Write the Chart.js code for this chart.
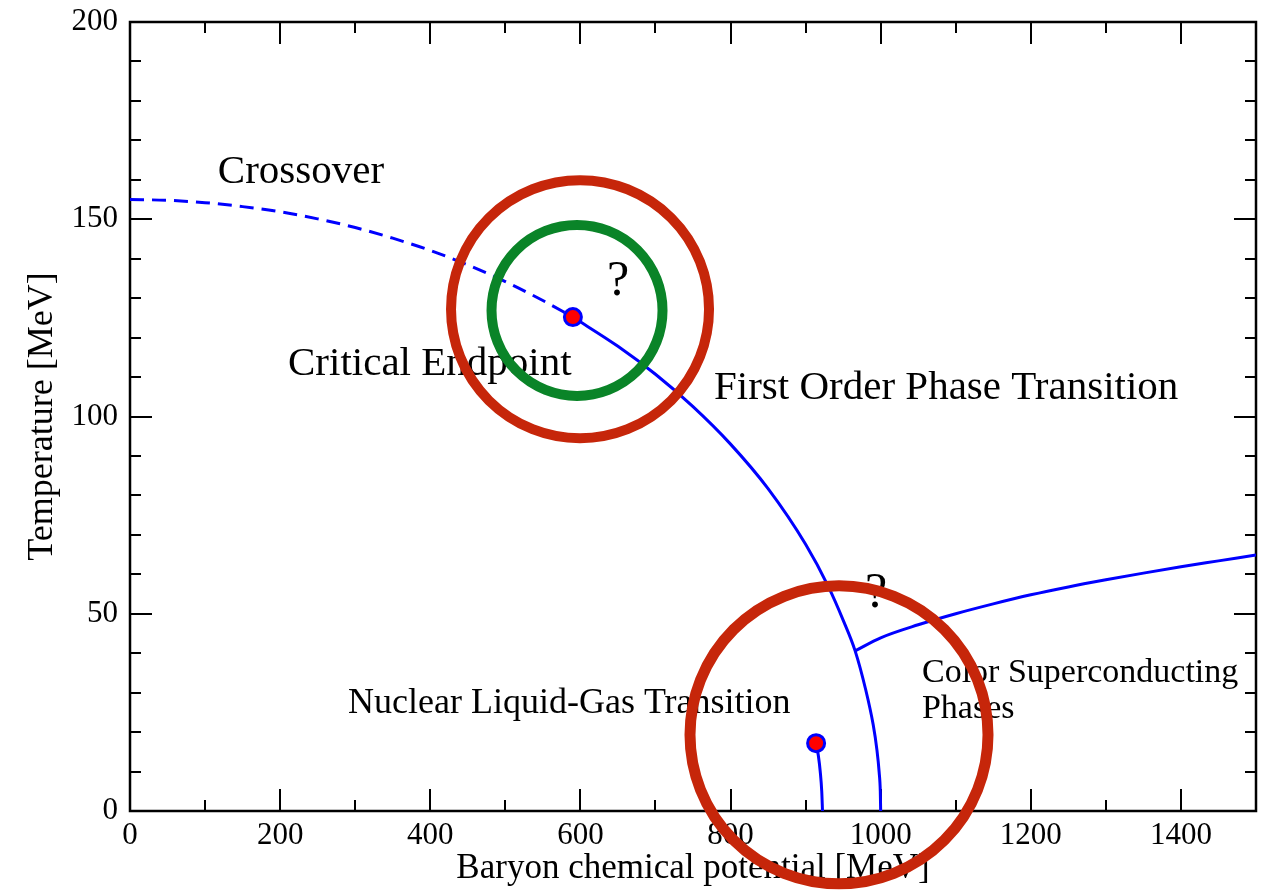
<!DOCTYPE html>
<html>
<head>
<meta charset="utf-8">
<script src="https://cdn.jsdelivr.net/npm/chart.js@4.4.1/dist/chart.umd.min.js"></script>
<style>
body { margin: 0; background: #fff; }
</style>
</head>
<body>
<canvas id="mycanvas" width="1268" height="890"></canvas>
<script>
// crossover (dashed) part of the boundary
var crossMu = [0, 50, 100, 150, 200, 250, 300, 350, 400, 450, 500, 550, 590];
var crossT = [155, 154.8, 154.2, 153.2, 151.9, 150.1, 147.9, 145.2, 142.1, 138.4, 134.2, 129.4, 125.2];
// first order line
var firstMu = [590, 650, 700, 750, 800, 850, 900, 930, 950, 966, 980, 990, 995, 998, 999.5, 1000];
var firstT = [125.2, 117.8, 110.7, 102.5, 93, 81.7, 67.6, 57, 48.4, 40.6, 30.8, 21.9, 15.5, 9.8, 5, 0];
// color superconducting boundary
var cscMu = [966, 1000, 1050, 1100, 1150, 1200, 1250, 1300, 1350, 1400, 1450, 1500];
var cscT = [40.6, 43.9, 47.2, 50, 52.5, 54.8, 56.8, 58.6, 60.3, 61.9, 63.4, 64.9];
// nuclear liquid-gas line
var lgMu = [914, 917, 919.5, 921.5, 922.5];
var lgT = [17.2, 14, 10, 5, 0];
// endpoints
var endMu = [590, 914];
var endT = [125.2, 17.2];
// rings (red, green, red)
var ringMu = [599.5, 595.5, 944.5];
var ringT = [127.2, 126.9, 19.3];

var labelText = ['Crossover', 'Critical Endpoint', 'First Order Phase Transition', '?', '?',
	'Nuclear Liquid-Gas Transition', 'Color Superconducting', 'Phases'];
var labelMu = [117, 210.5, 778, 635.4, 979, 290.4, 1055, 1055];
var labelT = [159.2, 110.5, 104.4, 130.8, 51.7, 24.8, 32.7, 23.6];

var xTicks = [0, 200, 400, 600, 800, 1000, 1200, 1400];
var xMinor = [100, 300, 500, 700, 900, 1100, 1300, 1500];
var yTicks = [0, 50, 100, 150, 200];
var yMinor = [10, 20, 30, 40, 60, 70, 80, 90, 110, 120, 130, 140, 160, 170, 180, 190];

function pts(xs, ys) {
	var out = [];
	for (var i in xs) {
		out.push({x: xs[i], y: ys[i]});
	}
	return out;
}

var labelSize = [41, 41, 41, 50, 50, 36, 34, 34];

var framePlugin = {
	id: 'frame',
	beforeDatasetsDraw: function(chart) {
		var ctx = chart.ctx;
		var a = chart.chartArea;
		var sx = chart.scales.x;
		var sy = chart.scales.y;
		ctx.save();
		ctx.strokeStyle = '#000';
		ctx.lineWidth = 2;
		ctx.beginPath();
		function xt(v, len) {
			var p = Math.round(sx.getPixelForValue(v));
			ctx.moveTo(p, a.bottom); ctx.lineTo(p, a.bottom - len);
			ctx.moveTo(p, a.top); ctx.lineTo(p, a.top + len);
		}
		function yt(v, len) {
			var p = Math.round(sy.getPixelForValue(v));
			ctx.moveTo(a.left, p); ctx.lineTo(a.left + len, p);
			ctx.moveTo(a.right, p); ctx.lineTo(a.right - len, p);
		}
		xTicks.forEach(function(v) { xt(v, 22); });
		xMinor.forEach(function(v) { xt(v, 11); });
		yTicks.forEach(function(v) { yt(v, 22); });
		yMinor.forEach(function(v) { yt(v, 11); });
		ctx.stroke();
		ctx.lineWidth = 2.5;
		ctx.strokeRect(a.left, a.top, a.right - a.left, a.bottom - a.top);

		ctx.fillStyle = '#000';
		ctx.textAlign = 'left';
		ctx.textBaseline = 'alphabetic';
		for (var i = 0; i < labelText.length; i++) {
			ctx.font = labelSize[i] + 'px "Liberation Serif"';
			ctx.fillText(labelText[i], sx.getPixelForValue(labelMu[i]), sy.getPixelForValue(labelT[i]));
		}
		ctx.restore();
	}
};

var ringColor = ['rgb(198,38,10)', 'rgb(10,132,40)', 'rgb(198,38,10)'];
var ringRadius = [129, 85.5, 149];
var ringWidth = [10, 10, 11];

var datasets = [];
for (var r = 0; r < ringMu.length; r++) {
	datasets.push({
		data: [{x: ringMu[r], y: ringT[r]}],
		showLine: false,
		pointStyle: 'circle',
		pointRadius: ringRadius[r],
		pointBorderWidth: ringWidth[r],
		pointBorderColor: ringColor[r],
		pointBackgroundColor: 'rgba(0,0,0,0)',
		clip: false
	});
}
datasets.push({
	data: pts(endMu, endT),
	showLine: false,
	pointRadius: 8.5,
	pointBorderWidth: 3,
	pointBorderColor: '#0000ff',
	pointBackgroundColor: '#ff0000'
});
var lineStyle = function(xs, ys, dash) {
	return {
		data: pts(xs, ys),
		showLine: true,
		fill: false,
		borderColor: '#0000ff',
		borderWidth: 3,
		borderDash: dash,
		pointRadius: 0,
		cubicInterpolationMode: 'monotone'
	};
};
datasets.push(lineStyle(crossMu, crossT, [14, 8]));
datasets.push(lineStyle(firstMu, firstT, []));
datasets.push(lineStyle(cscMu, cscT, []));
datasets.push(lineStyle(lgMu, lgT, []));

var font = 'Liberation Serif';
var ctx = document.getElementById('mycanvas');

function noPad(s) {
	s.paddingTop = 0;
	s.paddingBottom = 0;
	s.paddingLeft = 0;
	s.paddingRight = 0;
}

var PhaseChart = new Chart(ctx, {
	type: 'scatter',
	data: { datasets: datasets },
	plugins: [framePlugin],
	options: {
		responsive: false,
		animation: false,
		events: [],
		layout: { autoPadding: false, padding: { top: 22, right: 12, left: 0, bottom: 0 } },
		plugins: { legend: { display: false }, tooltip: { enabled: false } },
		scales: {
			x: {
				type: 'linear', min: 0, max: 1500,
				afterBuildTicks: function(s) { s.ticks = xTicks.map(function(v) { return {value: v}; }); },
				afterFit: function(s) { s.height = 79; noPad(s); },
				grid: { display: false, drawTicks: false },
				border: { display: false },
				ticks: { font: { family: font, size: 31 }, color: '#000', padding: 6, maxRotation: 0, autoSkip: false,
					callback: function(v) { return String(v); } },
				title: { display: true, text: 'Baryon chemical potential [MeV]', color: '#000',
					font: { family: font, size: 35 }, padding: { top: 0, bottom: 0 } }
			},
			y: {
				type: 'linear', min: 0, max: 200,
				afterBuildTicks: function(s) { s.ticks = yTicks.map(function(v) { return {value: v}; }); },
				afterFit: function(s) { s.width = 130; noPad(s); },
				grid: { display: false, drawTicks: false },
				border: { display: false },
				ticks: { font: { family: font, size: 31 }, color: '#000', padding: 12, autoSkip: false,
					callback: function(v) { return String(v); } },
				title: { display: true, text: 'Temperature [MeV]', color: '#000',
					font: { family: font, size: 36 }, padding: { top: 21, bottom: 0 } }
			}
		}
	}
});
</script>
</body>
</html>
